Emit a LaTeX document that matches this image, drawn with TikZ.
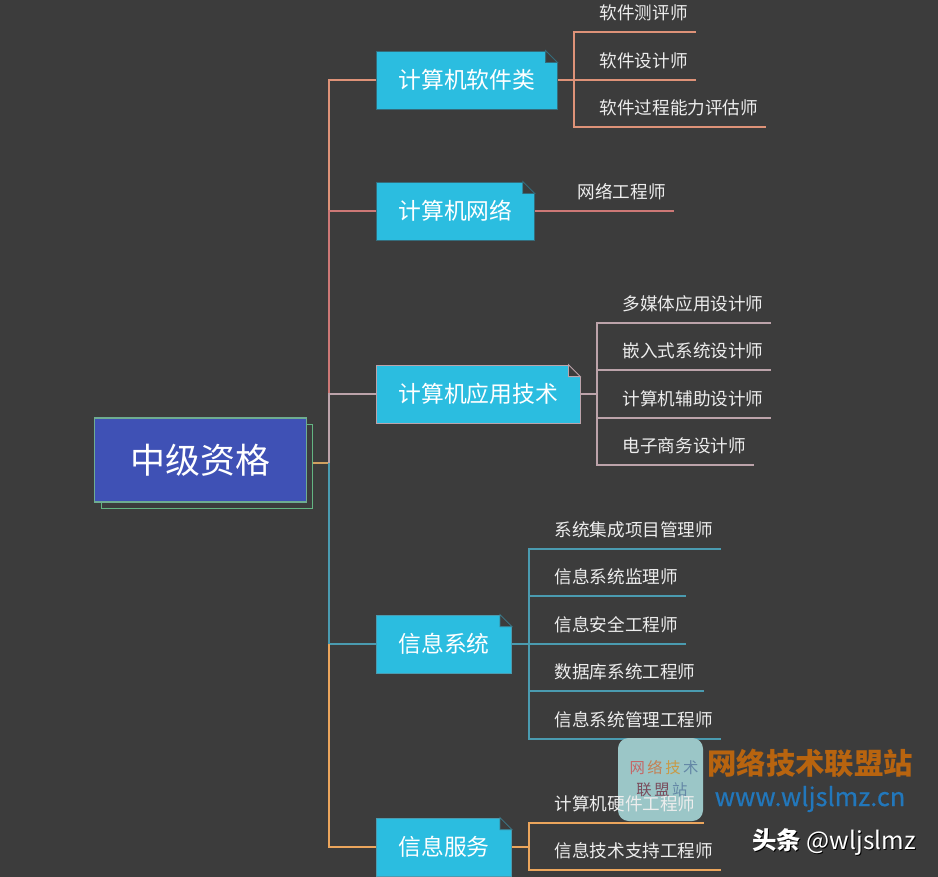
\documentclass[tikz,border=0pt]{standalone}
\usepackage{fontspec}
\setmainfont{Noto Sans CJK SC}
\newfontfamily\urlfont{Noto Sans CJK SC}[FakeBold=0.5]
\usepackage{xcolor}
\usetikzlibrary{positioning}
\definecolor{bgdark}{RGB}{60,60,60}
\definecolor{rootblue}{RGB}{63,81,181}
\definecolor{rootedge}{RGB}{110,172,145}
\definecolor{notecyan}{RGB}{43,189,224}
\definecolor{wireroot}{RGB}{208,160,96}
\definecolor{wireone}{RGB}{222,146,120}
\definecolor{wiretwo}{RGB}{205,120,118}
\definecolor{wirethree}{RGB}{188,163,170}
\definecolor{wirefour}{RGB}{74,155,176}
\definecolor{wirefive}{RGB}{235,165,92}
\definecolor{logofill}{RGB}{155,198,199}
\definecolor{markorange}{RGB}{184,100,15}
\definecolor{markblue}{RGB}{34,119,187}
\definecolor{logored}{RGB}{196,104,104}
\definecolor{logoamber}{RGB}{196,128,84}
\definecolor{logogold}{RGB}{200,154,70}
\definecolor{logosteel}{RGB}{100,136,166}
\definecolor{logoplum}{RGB}{122,76,92}

% folded corner of a branch note
\newcommand{\notefold}[2]{
    \fill[bgdark] ([xshift=-9pt,yshift=1pt]#1.north east) rectangle ([xshift=1pt,yshift=-9pt]#1.north east);
    \draw[#2, line width=0.6pt] ([xshift=-9pt]#1.north east) -- ([yshift=-9pt]#1.north east)
        -- ([xshift=-9pt,yshift=-9pt]#1.north east) -- cycle;
}

\begin{document}
\begin{tikzpicture}[x=0.75pt, y=-0.75pt,
    rootbox/.style={rectangle, draw=rootedge, line width=0.9pt, fill=rootblue, text=white,
        minimum width=159.5pt, minimum height=63pt, font=\fontsize{26.2}{30}\selectfont},
    note/.style={rectangle, draw=#1, line width=0.6pt, fill=notecyan, text=white, anchor=west,
        minimum height=43.5pt, inner xsep=16.5pt, font=\fontsize{17.1}{20}\selectfont},
    leaf/.style={rectangle, anchor=south west, inner xsep=0pt, inner ysep=0pt, text=white!93!black,
        text width=(#1-1)*0.75pt, text height=13pt, text depth=9pt, align=left,
        font=\fontsize{13.2}{16}\selectfont, execute at begin node={\hspace*{19pt}}},
    wire/.style={line width=0.8pt, #1},
    logochar/.style={font=\fontsize{11.5}{14}\selectfont, inner sep=0pt}
]
    \fill[bgdark] (0,0) rectangle (938,877);

    % Root
    \node[rectangle, draw=rootedge!90!green, line width=0.9pt, minimum width=158.5pt, minimum height=63pt] (rootbk) at (207,466.5) {};
    \node[rootbox] (root) at (200.5,460) {中级资格};

    % Branch notes
    \node[note=wirefour!70!black] (b1) at (376,80) {计算机软件类};
    \node[note=wirefour!70!black] (b2) at (376,211) {计算机网络};
    \node[note=wirethree] (b3) at (376,394) {计算机应用技术};
    \node[note=wirefour] (b4) at (376,644) {信息系统};
    \node[note=wirefour] (b5) at (376,847) {信息服务};
    \notefold{b1}{wirefour!70!black}
    \notefold{b2}{wirefour!70!black}
    \notefold{b3}{wirethree}
    \notefold{b4}{wirefour!80!black}
    \notefold{b5}{wirefour!80!black}

    % Trunk
    \coordinate (tk) at (329,463);
    \coordinate (t2) at (329,211);
    \coordinate (t3) at (329,394);
    \coordinate (t4) at (329,644);
    \draw[wire=wireroot] (rootbk.east |- tk) -- (tk);
    \draw[wire=wireone] (t2) |- (b1.west);
    \draw[wire=wiretwo] (t3) -- (t2) -- (b2.west);
    \draw[wire=wirethree] (tk) -- (t3) -- (b3.west);
    \draw[wire=wirefour] (tk) -- (t4) -- (b4.west);
    \draw[wire=wirefive] (t4) |- (b5.west);

    % Leaves of the first branch
    \node[leaf=122] (l1a) at (574,32) {软件测评师};
    \node[leaf=122] (l1b) at (574,80) {软件设计师};
    \node[leaf=192] (l1c) at (574,127) {软件过程能力评估师};
    \draw[wire=wireone] (b1.east) -- (l1b.south west) -- (l1b.south east);
    \draw[wire=wireone] (l1a.south east) -- (l1a.south west) -- (l1c.south west) -- (l1c.south east);

    % Leaf of the second branch
    \node[leaf=122] (l2a) at (552,211) {网络工程师};
    \draw[wire=wiretwo] (b2.east) -- (l2a.south west) -- (l2a.south east);

    % Leaves of the third branch
    \node[leaf=174] (l3a) at (597,323) {多媒体应用设计师};
    \node[leaf=174] (l3b) at (597,370) {嵌入式系统设计师};
    \node[leaf=174] (l3c) at (597,418) {计算机辅助设计师};
    \node[leaf=157] (l3d) at (597,465) {电子商务设计师};
    \coordinate (s3) at (597,394);
    \draw[wire=wirethree] (b3.east) -- (s3);
    \draw[wire=wirethree] (l3a.south east) -- (l3a.south west) -- (l3d.south west) -- (l3d.south east);
    \draw[wire=wirethree] (l3b.south west) -- (l3b.south east);
    \draw[wire=wirethree] (l3c.south west) -- (l3c.south east);

    % Leaves of the fourth branch
    \node[leaf=192] (l4a) at (529,549) {系统集成项目管理师};
    \node[leaf=157] (l4b) at (529,596) {信息系统监理师};
    \node[leaf=157] (l4c) at (529,644) {信息安全工程师};
    \node[leaf=175] (l4d) at (529,691) {数据库系统工程师};
    \node[leaf=192] (l4e) at (529,739) {信息系统管理工程师};
    \draw[wire=wirefour] (l4a.south east) -- (l4a.south west) -- (l4e.south west) -- (l4e.south east);
    \draw[wire=wirefour] (l4b.south west) -- (l4b.south east);
    \draw[wire=wirefour] (b4.east) -- (l4c.south west) -- (l4c.south east);
    \draw[wire=wirefour] (l4d.south west) -- (l4d.south east);

    % Logo of the watermark, under the next leaf text
    \node[rectangle, rounded corners=8pt, fill=logofill, minimum width=63.75pt, minimum height=62.25pt, inner sep=0pt] (logo) at (660.5,779.5) {};
    \node[logochar] (logoa) at (664,768) {\textcolor{logored}{网}\,\textcolor{logoamber}{络}\,\textcolor{logogold}{技}\,\textcolor{logosteel}{术}};
    \node[logochar] (logob) at (662,790) {\textcolor{logoplum}{联}\,\textcolor{logoplum}{盟}\,\textcolor{logosteel}{站}};

    % Leaves of the fifth branch
    \node[leaf=175] (l5a) at (529,823) {计算机硬件工程师};
    \node[leaf=192] (l5b) at (529,870) {信息技术支持工程师};
    \coordinate (s5) at (529,847);
    \draw[wire=wirefive] (b5.east) -- (s5);
    \draw[wire=wirefive] (l5a.south east) -- (l5a.south west) -- (l5b.south west) -- (l5b.south east);

    % Watermark
    \node[font=\fontsize{22}{26}\bfseries\selectfont, text=markorange, inner sep=0pt] (marka) at (810,763) {网络技术联盟站};
    \node[font=\urlfont\fontsize{19}{22}\selectfont, text=markblue, inner sep=0pt] (markb) at (810,799) {www.wljslmz.cn};
    \node[font=\fontsize{18.3}{20}\selectfont, text=black, inner sep=0pt] (markc) at (835,843) {\textbf{头条} @wljslmz};
    \node[font=\fontsize{18.3}{20}\selectfont, text=white, inner sep=0pt] (markd) at (834,842) {\textbf{头条} @wljslmz};
\end{tikzpicture}
\end{document}
